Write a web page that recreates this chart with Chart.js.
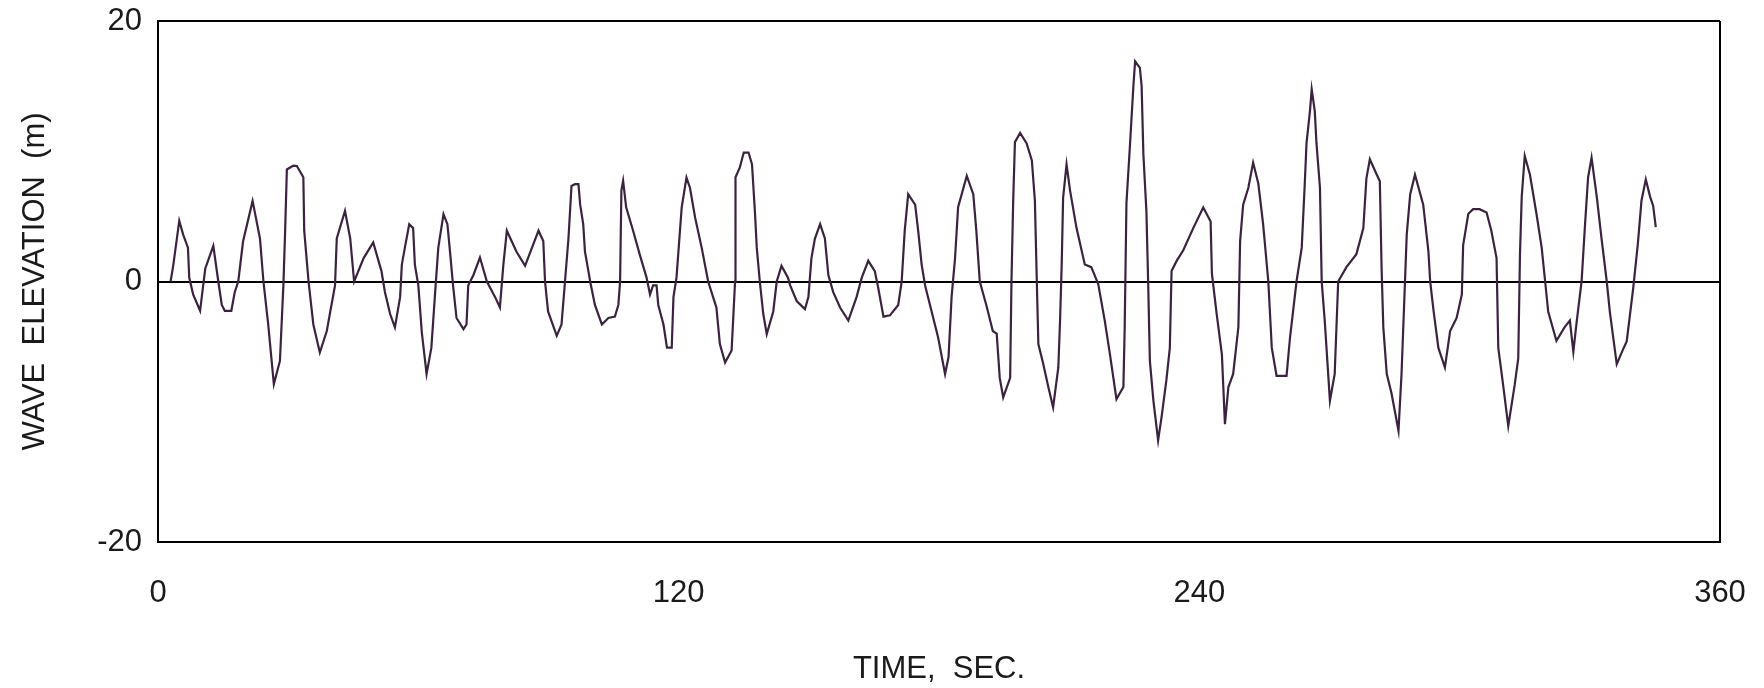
<!DOCTYPE html>
<html>
<head>
<meta charset="utf-8">
<title>Wave elevation</title>
<script src="https://cdn.jsdelivr.net/npm/chart.js@4/dist/chart.umd.min.js"></script>
<style>
    html, body { margin: 0; padding: 0; background: #ffffff; }
    #wrap { width: 1764px; height: 688px; }
</style>
</head>
<body>
<div id="wrap"><canvas id="chart"></canvas></div>
<script>
// Время, с
const timeSec = [
    2.9, 3.5, 4.9, 5.8, 6.9, 7.2, 8.1, 9.7, 10.9, 12.75, 13.9, 14.7, 15.4, 16.9, 17.7, 18.5, 19.6, 21.8,
    23.5, 24.3, 25.4, 26.7, 28.1, 28.9, 29.3, 29.7, 31.2, 32.0, 33.5, 33.7, 34.7, 35.8, 37.3, 38.9,
    40.8, 41.2, 43.1, 44.3, 45.2, 47.4, 49.6,
    51.5, 52.3, 53.5, 54.6, 55.8, 56.2, 56.9, 57.9, 58.8, 59.2, 60.0, 60.8, 61.9, 63.0, 63.8, 64.6,
    65.8, 66.7, 67.3, 68.0, 68.8, 70.4, 71.1, 71.5, 72.7, 74.2, 75.8, 77.7, 78.8, 79.6, 80.4, 82.6,
    84.6, 87.7, 88.8, 89.2, 89.9, 91.9, 93.0, 93.8, 94.6, 95.3,
    96.1, 96.9, 97.3, 98.0, 98.4, 99.2, 99.6, 100.7, 102.3, 103.8, 105.3, 106.1, 106.5, 106.8, 107.2,
    107.9, 109.5, 111.0, 112.6, 113.4, 114.1, 114.9, 115.3, 116.5, 117.3, 118.4, 118.8, 119.5, 120.7,
    121.8, 122.6, 123.8, 125.3, 126.8, 128.7, 129.5, 130.7, 132.2, 133.0, 133.1, 134.1, 135.0, 136.1,
    136.9, 137.6, 138.0, 138.7, 139.5, 140.3, 141.8, 142.6, 143.7, 145.2,
    145.7, 147.2, 149.1, 149.9, 150.6, 151.4, 152.6, 153.7, 154.5, 155.6, 157.2, 159.1, 161.0, 162.2,
    163.7, 165.2, 166.0, 167.2, 168.7, 170.6, 171.4, 172.1, 172.9, 174.5, 175.2, 176.0, 176.8, 178.3,
    179.8, 181.4, 182.2, 182.9, 183.7, 184.4, 186.4, 187.9, 188.6, 189.4, 190.9, 192.4,
    193.3, 194.0, 194.8, 196.4, 196.7, 197.1, 197.5, 198.7, 200.2, 201.4, 202.1, 202.5, 202.9, 204.0,
    205.2, 206.3, 207.5, 207.9, 208.3, 208.6, 209.4, 210.2, 211.7, 213.6, 215.1, 216.7, 218.2, 219.4,
    220.9, 222.5, 222.8, 223.2, 224.0, 224.8, 225.2, 226.3, 226.7, 227.1, 227.8, 228.2, 228.6, 229.4,
    230.5, 231.3, 232.4, 233.2, 233.6, 234.8, 236.3, 238.6, 240.9,
    242.6, 242.9, 244.0, 245.2, 245.9, 246.7, 247.8, 249.0, 249.4, 250.1, 251.3, 252.4, 253.6, 254.7,
    255.9, 256.7, 257.8, 260.1, 260.9, 262.4, 263.6, 264.3, 264.7, 265.5, 265.9, 266.6, 267.0, 267.8,
    268.2, 268.9, 270.1, 271.2, 272.0, 273.9, 276.2, 277.8, 278.5, 279.3, 280.9, 281.6, 282.0, 282.4,
    283.2, 284.3, 285.9, 286.6, 287.4, 287.8, 288.6, 289.7,
    291.6, 292.8, 293.2, 294.0, 295.1, 296.6, 297.8, 299.3, 300.5, 300.8, 302.0, 303.1, 304.6, 306.2,
    307.3, 308.5, 308.9, 310.0, 311.2, 312.7, 313.5, 313.9, 314.3, 315.0, 316.2, 317.7, 318.9, 319.7,
    320.4, 322.3, 324.2, 325.4, 326.2, 326.9, 328.1, 328.9, 329.6, 330.4, 331.6, 332.7, 333.9, 334.6,
    336.2, 337.8, 338.5, 340.0, 341.1, 341.9, 342.9, 343.9, 344.6, 345.2
];

// Возвышение волны, м
const elevation = [
    0, 1.2, 4.66, 3.6, 2.6, 0.3, -1.0, -2.25, 1.0, 2.74, 0, -1.8, -2.25, -2.25, -0.8, 0, 3.07, 6.19,
    3.3, 0, -3.3, -7.88, -6.1, -0.3, 3.9, 8.6, 8.9, 8.87, 8.0, 3.9, 0, -3.3, -5.45, -3.8,
    -0.3, 3.3, 5.42, 3.3, 0, 1.8, 3.0,
    0.8, -0.8, -2.5, -3.53, -1.2, 1.3, 2.6, 4.4, 4.1, 1.3, -0.3, -3.9, -7.1, -5.1, -1.2, 2.6,
    5.17, 4.4, 2.3, -0.3, -2.8, -3.66, -3.3, -0.3, 0.5, 1.84, 0, -1.2, -2.0, 1.3, 3.9, 2.3,
    1.2, 3.9, 3.1, 0, -2.3, -4.17, -3.3, 0, 3.3, 7.34,
    7.47, 7.47, 5.9, 4.4, 2.3, 0.8, 0, -1.8, -3.3, -2.8, -2.7, -1.8, 0, 7.0, 7.73,
    5.7, 3.9, 2.1, 0.3, -1.0, -0.3, -0.3, -1.8, -3.3, -5.07, -5.07, -1.2, 0.3, 5.7,
    7.98, 7.2, 4.9, 2.6, 0, -2.0, -4.8, -6.22, -5.3, 0, 8.0, 8.76, 9.9, 9.9,
    9.0, 5.2, 2.6, 0, -2.5, -4.04, -2.3, 0, 1.2, 0.3,
    -0.3, -1.5, -2.12, -1.2, 1.8, 3.3, 4.4, 3.3, 0.5, -0.8, -2.0, -3.0, -1.2, 0.3,
    1.59, 0.8, -0.5, -2.7, -2.6, -1.8, 0, 3.9, 6.7, 5.9, 3.9, 1.3, -0.3, -2.3,
    -4.3, -7.1, -5.8, -1.2, 1.8, 5.7, 8.1, 6.7, 3.9, 0, -1.8, -3.8,
    -4.0, -7.4, -8.9, -7.4, 0, 6.2, 10.7, 11.4, 10.6, 9.3, 6.2, 0.6, -4.8, -6.3,
    -8.1, -9.67, -6.6, -3.0, 1.6, 6.4, 9.0, 7.0, 4.1, 1.3, 1.1, -0.2, -3.0, -5.6,
    -9.03, -8.1, -3.5, 6.0, 10.4, 15.0, 16.9, 16.4, 15.0, 9.8, 5.4, 0, -6.1, -9.1,
    -12.2, -10.4, -7.6, -5.1, 0.8, 1.6, 2.4, 4.1, 5.68,
    4.6, 0.6, -2.5, -5.6, -10.95, -8.1, -7.1, -3.5, 3.1, 5.9, 7.2, 9.13, 7.5, 4.4,
    0, -5.1, -7.24, -7.24, -4.3, 0, 2.6, 7.5, 10.6, 13.1, 14.76, 13.1, 10.6, 7.2,
    0, -3.0, -9.16, -7.1, 0, 1.1, 2.1, 4.1, 7.9, 9.39, 8.2, 7.7, 1.1, -3.5,
    -7.1, -8.6, -11.46, -7.1, 0, 3.6, 6.7, 8.2,
    5.9, 2.3, 0, -2.3, -5.1, -6.6, -3.8, -2.8, -1.0, 2.8, 5.2, 5.55, 5.55, 5.3,
    3.9, 1.8, -5.1, -7.9, -11.1, -7.9, -5.9, 2.1, 6.5, 9.65, 8.2, 5.2, 2.6, 0,
    -2.3, -4.55, -3.5, -3.0, -5.4, -3.3, 0, 4.4, 8.0, 9.5, 6.5, 3.3, 0, -2.3,
    -6.35, -5.1, -4.6, -0.5, 3.0, 6.2, 7.84, 6.5, 5.8, 4.17
];

// Оси
const xTicks = [0, 120, 240, 360];
const yTicks = [-20, 0, 20];

const LINE_COLOR = '#3b2340';
const TEXT_COLOR = '#1a1a1a';
const FONT_FAMILY = '"Liberation Sans", Arial, sans-serif';

// Размеры области графика (в пикселях холста)
const PLOT_LEFT = 158;
const PLOT_BOTTOM_GAP = 688 - 542;

const points = timeSec.map((t, i) => ({ x: t, y: elevation[i] }));

Chart.defaults.font.family = FONT_FAMILY;
Chart.defaults.color = TEXT_COLOR;

new Chart(document.getElementById('chart').getContext('2d'), {
    type: 'line',
    data: {
        datasets: [{
            data: points,
            borderColor: LINE_COLOR,
            borderWidth: 2.2,
            pointRadius: 0,
            tension: 0,
            fill: false,
        }],
    },
    options: {
        responsive: true,
        maintainAspectRatio: false,
        animation: false,
        layout: {
            padding: { top: 21, right: 44, left: 0, bottom: 0 },
        },
        plugins: {
            legend: { display: false },
            tooltip: { enabled: false },
        },
        scales: {
            x: {
                type: 'linear',
                min: xTicks[0],
                max: xTicks[xTicks.length - 1],
                afterBuildTicks: (scale) => {
                    scale.ticks = xTicks.map(v => ({ value: v }));
                },
                // фиксированная высота оси и без запаса под крайние подписи
                afterFit: (scale) => {
                    scale.height = PLOT_BOTTOM_GAP;
                    scale.paddingLeft = 0;
                    scale.paddingRight = 0;
                },
                border: { display: true, color: '#000000', width: 2 },
                grid: {
                    drawTicks: false,
                    lineWidth: 2,
                    color: (ctx) => ctx.tick && ctx.tick.value === 360 ? '#000000' : 'rgba(0,0,0,0)',
                },
                ticks: {
                    padding: 33,
                    maxRotation: 0,
                    font: { size: 31 },
                    color: TEXT_COLOR,
                },
                title: {
                    display: true,
                    text: 'TIME,  SEC.',
                    font: { size: 31 },
                    color: TEXT_COLOR,
                    padding: { top: 0, bottom: 0 },
                },
            },
            y: {
                type: 'linear',
                min: yTicks[0],
                max: yTicks[yTicks.length - 1],
                afterBuildTicks: (scale) => {
                    scale.ticks = yTicks.map(v => ({ value: v }));
                },
                afterFit: (scale) => {
                    scale.width = PLOT_LEFT;
                    scale.paddingTop = 0;
                    scale.paddingBottom = 0;
                },
                border: { display: true, color: '#000000', width: 2 },
                grid: {
                    drawTicks: false,
                    lineWidth: 2,
                    color: (ctx) => ctx.tick && (ctx.tick.value === 0 || ctx.tick.value === 20)
                        ? '#000000' : 'rgba(0,0,0,0)',
                },
                ticks: {
                    padding: 16,
                    font: { size: 31 },
                    color: TEXT_COLOR,
                },
                title: {
                    display: true,
                    text: 'WAVE  ELEVATION  (m)',
                    font: { size: 31 },
                    color: TEXT_COLOR,
                    padding: { top: 17, bottom: 0 },
                },
            },
        },
    },
});
</script>
</body>
</html>
